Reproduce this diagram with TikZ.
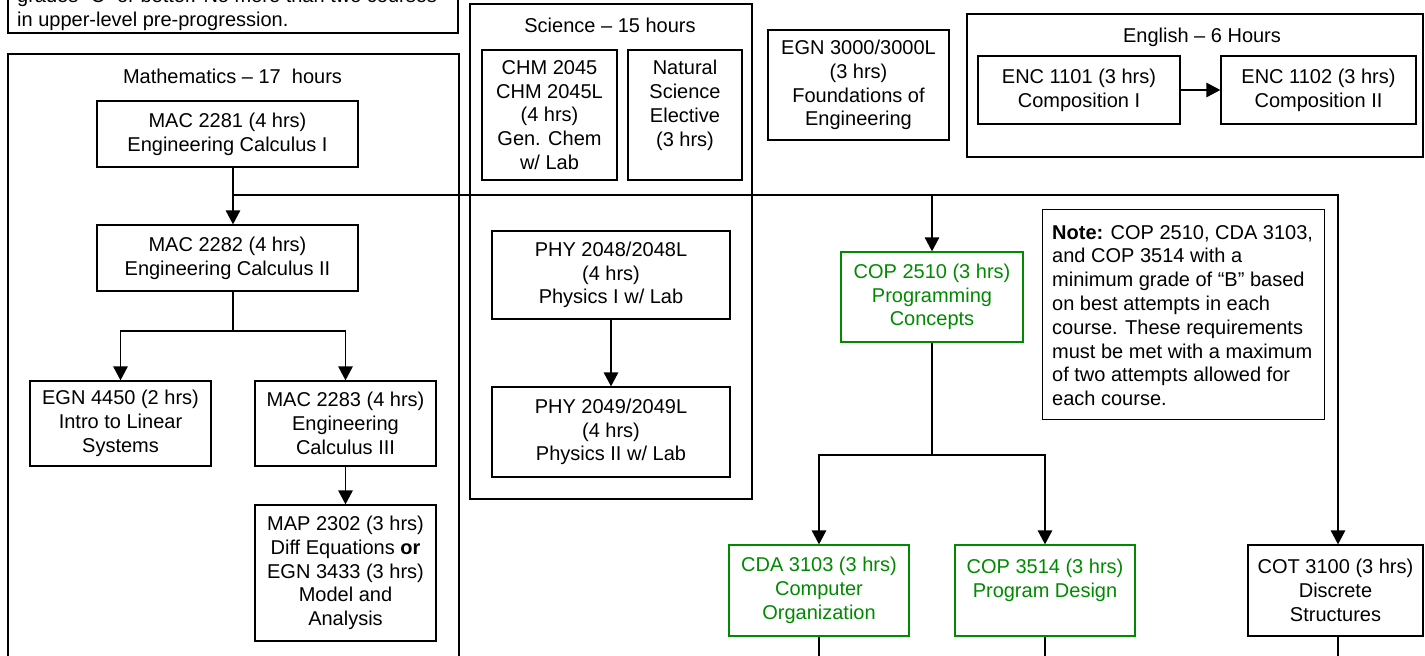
\documentclass[tikz,border=0pt]{standalone}
\usepackage{fontspec}
\setmainfont{Liberation Sans}
\usetikzlibrary{arrows.meta,calc}
\definecolor{cgreen}{RGB}{0,138,0}
\begin{document}
\begin{tikzpicture}[x=1pt,y=-1pt,
  txt/.style={font=\fontsize{20}{23.8}\selectfont},
  box/.style={draw, line width=1.3pt, align=center, inner sep=0pt, txt},
  gbox/.style={box, draw=cgreen, text=cgreen},
  grp/.style={draw, line width=1.3pt},
  conn/.style={line width=1.3pt},
  arr/.style={conn, -{Triangle[length=14pt,width=14.5pt]}},
  title/.style={txt, inner sep=0pt, anchor=base}]
\useasboundingbox (0,0) rectangle (1425,656);
\clip (0,0) rectangle (1425,656);
\fill[white] (0,0) rectangle (1425,656);

% group frames
\draw[grp] (8,-20) rectangle (458,33);
\node[txt, align=left, inner sep=0pt, anchor=north west] (topnote) at (17,-12.4)
  {grades “C” or better. No more than two courses\\in upper-level pre-progression.};
\draw[grp] (8,54) rectangle (459,700);
\draw[grp] (470,4) rectangle (752,499);
\draw[grp] (967,14) rectangle (1423,157);

% titles
\node[title] (tmath) at (232.5,83.2) {Mathematics – 17~~hours};
\node[title] (tsci) at (610,32.2) {Science – 15 hours};
\node[title] (teng) at (1202,42.2) {English – 6 Hours};

% mathematics
\node[box, minimum width=261pt, minimum height=66pt] (mac1) at (227.5,134) {MAC 2281 (4 hrs)\\Engineering Calculus I};
\node[box, minimum width=261pt, minimum height=66pt] (mac2) at (227.5,258) {MAC 2282 (4 hrs)\\Engineering Calculus II};
\node[box, minimum width=181pt, minimum height=85pt] (egn) at (120.5,423.5) {EGN 4450 (2 hrs)\\Intro to Linear\\Systems};
\node[box, minimum width=181pt, minimum height=85pt] (mac3) at (345.5,423.5) {MAC 2283 (4 hrs)\\Engineering\\Calculus III};
\node[box, minimum width=181pt, minimum height=136pt] (map) at (345.5,573) {MAP 2302 (3 hrs)\\Diff Equations \textbf{or}\\EGN 3433 (3 hrs)\\Model and\\Analysis};

% science
\node[box, minimum width=135pt, minimum height=130pt] (chm) at (549.5,115) {CHM 2045\\CHM 2045L\\(4 hrs)\\Gen. Chem\\w/ Lab};
\node[box, minimum width=114pt, minimum height=130pt] (nat) at (685,115) {Natural\\Science\\Elective\\(3 hrs)\\\mbox{}};
\node[box, minimum width=238pt, minimum height=88pt] (phy1) at (611,275) {PHY 2048/2048L\\(4 hrs)\\Physics I w/ Lab};
\node[box, minimum width=238pt, minimum height=90pt] (phy2) at (611,432) {PHY 2049/2049L\\(4 hrs)\\Physics II w/ Lab};

% engineering
\node[box, minimum width=181pt, minimum height=110pt] (egn3) at (858.5,85) {EGN 3000/3000L\\(3 hrs)\\Foundations of\\Engineering};

% english
\node[box, minimum width=202pt, minimum height=68pt] (enc1) at (1079,90) {ENC 1101 (3 hrs)\\Composition I};
\node[box, minimum width=195pt, minimum height=68pt] (enc2) at (1318.5,90) {ENC 1102 (3 hrs)\\Composition II};

% computing
\node[gbox, minimum width=182pt, minimum height=90pt] (cop1) at (932,297) {COP 2510 (3 hrs)\\Programming\\Concepts};
\node[gbox, minimum width=180pt, minimum height=91pt] (cda) at (819,590.5) {CDA 3103 (3 hrs)\\Computer\\Organization};
\node[gbox, minimum width=180pt, minimum height=91pt] (cop2) at (1045,590.5) {COP 3514 (3 hrs)\\Program Design\\\mbox{}};
\node[box, minimum width=175pt, minimum height=91pt] (cot) at (1335.5,590.5) {COT 3100 (3 hrs)\\Discrete\\Structures};

% note
\node[draw, line width=1.3pt, minimum width=282pt, minimum height=210pt, anchor=north west, inner sep=0pt] (note) at (1042,209) {};
\node[txt, align=left, inner sep=0pt, anchor=north west] (notetext) at (1052,225)
  {\textbf{Note:} COP 2510, CDA 3103,\\and COP 3514 with a\\minimum grade of “B” based\\on best attempts in each\\course. These requirements\\must be met with a maximum\\of two attempts allowed for\\each course.};

% connectors
\coordinate (j1) at (233,195);
\coordinate (jr) at (1338,195);
\coordinate (j2) at (233,331);
\coordinate (j3) at (932,455);
\draw[arr] ([xshift=5.5pt]mac1.south) -- ([xshift=5.5pt]mac2.north);
\draw[arr] (j1) -- (jr) -- (jr |- cot.north);
\draw[arr] (j1 -| cop1.north) -- (cop1.north);
\draw[conn] ([xshift=5.5pt]mac2.south) -- (j2);
\draw[arr] (j2) -| (egn.north);
\draw[arr] (j2) -| (mac3.north);
\draw[arr] (mac3) -- (map);
\draw[arr] (phy1) -- (phy2);
\draw[arr] (enc1) -- (enc2);
\draw[conn] (cop1.south) -- (j3);
\draw[arr] (j3) -| (cda.north);
\draw[arr] (j3) -| (cop2.north);
\coordinate (e1) at (819,680);
\coordinate (e2) at (1045,680);
\coordinate (e3) at (1338,680);
\draw[conn] (cda.south) -- (e1);
\draw[conn] (cop2.south) -- (e2);
\draw[conn] (jr |- cot.south) -- (e3);
\end{tikzpicture}
\end{document}
